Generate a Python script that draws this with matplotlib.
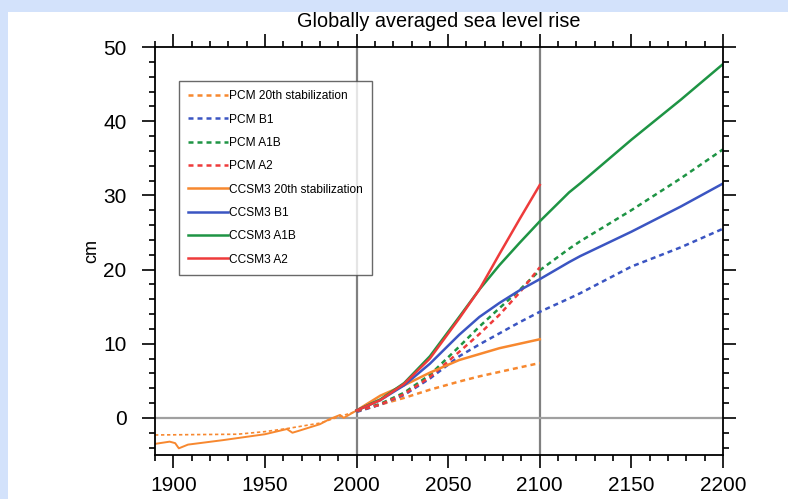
import matplotlib.pyplot as plt
from matplotlib.patches import Rectangle
from matplotlib.ticker import MultipleLocator

# historical period
ccsm3_hist_years = [1890, 1898, 1901, 1903, 1908, 1927, 1950, 1962, 1965, 1969, 1980, 1985, 1991, 1993, 2000]
ccsm3_hist = [-3.5, -3.2, -3.4, -4.1, -3.6, -3.0, -2.2, -1.5, -2.0, -1.7, -0.85, -0.2, 0.4, 0.0, 1.0]
pcm_hist_years = [1890, 1935, 1950, 1963, 1980, 1991, 2000]
pcm_hist = [-2.3, -2.2, -1.85, -1.4, -0.7, 0.2, 0.9]

# 21st century
years_21 = [2000, 2013, 2026, 2040, 2056, 2067, 2078, 2089, 2100]
pcm_20c_stab = [0.9, 1.8, 2.7, 3.8, 4.9, 5.6, 6.2, 6.8, 7.4]
pcm_b1 = [0.8, 1.8, 3.1, 5.3, 8.3, 9.9, 11.4, 12.9, 14.3]
pcm_a1b = [0.9, 1.9, 3.4, 5.8, 9.6, 12.3, 14.8, 17.25, 19.9]
pcm_a2 = [0.9, 1.8, 3.2, 5.5, 8.9, 11.3, 13.9, 16.9, 20.3]
ccsm3_20c_stab = [1.0, 3.0, 4.4, 6.1, 7.8, 8.6, 9.4, 10.0, 10.6]
ccsm3_b1 = [1.0, 2.4, 4.4, 7.3, 11.2, 13.6, 15.5, 17.2, 18.7]
ccsm3_a1b = [1.0, 2.5, 4.7, 8.3, 13.6, 17.3, 20.6, 23.6, 26.5]
ccsm3_a2 = [1.0, 2.4, 4.6, 8.0, 13.4, 17.3, 22.1, 26.8, 31.4]

# 22nd century
years_22 = [2100, 2116, 2122, 2150, 2177, 2200]
pcm_b1_22 = [14.3, 16.1, 16.8, 20.4, 23.0, 25.5]
pcm_a1b_22 = [19.9, 22.8, 23.8, 28.0, 32.3, 36.2]
ccsm3_b1_22 = [18.7, 21.0, 21.8, 25.1, 28.5, 31.6]
ccsm3_a1b_22 = [26.5, 30.4, 31.6, 37.5, 42.9, 47.7]

orange = '#f7882f'
blue = '#3b55c2'
green = '#1e9444'
red = '#ee3b3b'

plt.rcParams['font.family'] = ['Liberation Sans', 'DejaVu Sans']

fig = plt.figure(figsize=(7.88, 4.99), dpi=100)
fig.patch.set_facecolor('#d3e2fb')
fig.patches.append(Rectangle((8 / 788, 0), 780 / 788, 1 - 12 / 499,
                             transform=fig.transFigure, facecolor='white',
                             edgecolor='none', zorder=-10))

ax = fig.add_axes([155 / 788, 1 - 455 / 499, 568 / 788, 408 / 499])
ax.set_facecolor('white')

ax.axvline(2000, color='#808080', lw=1.6, zorder=1)
ax.axvline(2100, color='#808080', lw=1.6, zorder=1)
ax.axhline(0, color='#a0a0a0', lw=1.6, zorder=1)

lw = 1.8
dash = (0, (2, 1.6))

ax.plot(pcm_hist_years, pcm_hist, color=orange, lw=1.2, ls=dash)
ax.plot(ccsm3_hist_years, ccsm3_hist, color=orange, lw=1.4)

ax.plot(years_21, pcm_20c_stab, color=orange, lw=lw, ls=dash, label='PCM 20th stabilization')
ax.plot(years_21 + years_22[1:], pcm_b1 + pcm_b1_22[1:], color=blue, lw=lw, ls=dash, label='PCM B1')
ax.plot(years_21 + years_22[1:], pcm_a1b + pcm_a1b_22[1:], color=green, lw=lw, ls=dash, label='PCM A1B')
ax.plot(years_21, pcm_a2, color=red, lw=lw, ls=dash, label='PCM A2')
ax.plot(years_21, ccsm3_20c_stab, color=orange, lw=lw, label='CCSM3 20th stabilization')
ax.plot(years_21 + years_22[1:], ccsm3_b1 + ccsm3_b1_22[1:], color=blue, lw=lw, label='CCSM3 B1')
ax.plot(years_21 + years_22[1:], ccsm3_a1b + ccsm3_a1b_22[1:], color=green, lw=lw, label='CCSM3 A1B')
ax.plot(years_21, ccsm3_a2, color=red, lw=lw, label='CCSM3 A2')

ax.set_xlim(1890, 2200)
ax.set_ylim(-5, 50)
ax.xaxis.set_major_locator(MultipleLocator(50))
ax.xaxis.set_minor_locator(MultipleLocator(10))
ax.yaxis.set_major_locator(MultipleLocator(10))
ax.yaxis.set_minor_locator(MultipleLocator(2))
ax.tick_params(which='both', direction='out', top=True, right=True,
               width=1.2, labelsize=15)
ax.tick_params(which='major', length=9.4)
ax.tick_params(which='minor', length=4.3)
ax.tick_params(axis='x', which='major', pad=6)
ax.tick_params(axis='y', which='major', pad=11)
for s in ax.spines.values():
    s.set_linewidth(1.3)

ax.set_ylabel('cm', fontsize=13, labelpad=2)
ax.set_title('Globally averaged sea level rise', fontsize=14.3, pad=14.5)

leg = ax.legend(loc='upper left', bbox_to_anchor=(0.042, 0.917), fontsize=8.6,
                frameon=True, fancybox=False, handlelength=3.3, handletextpad=0.1,
                labelspacing=0.95, borderpad=0.78, borderaxespad=0)
leg.get_frame().set_edgecolor('#444444')
leg.get_frame().set_linewidth(1.0)

fig.savefig('out.png', dpi=100, facecolor=fig.get_facecolor())
